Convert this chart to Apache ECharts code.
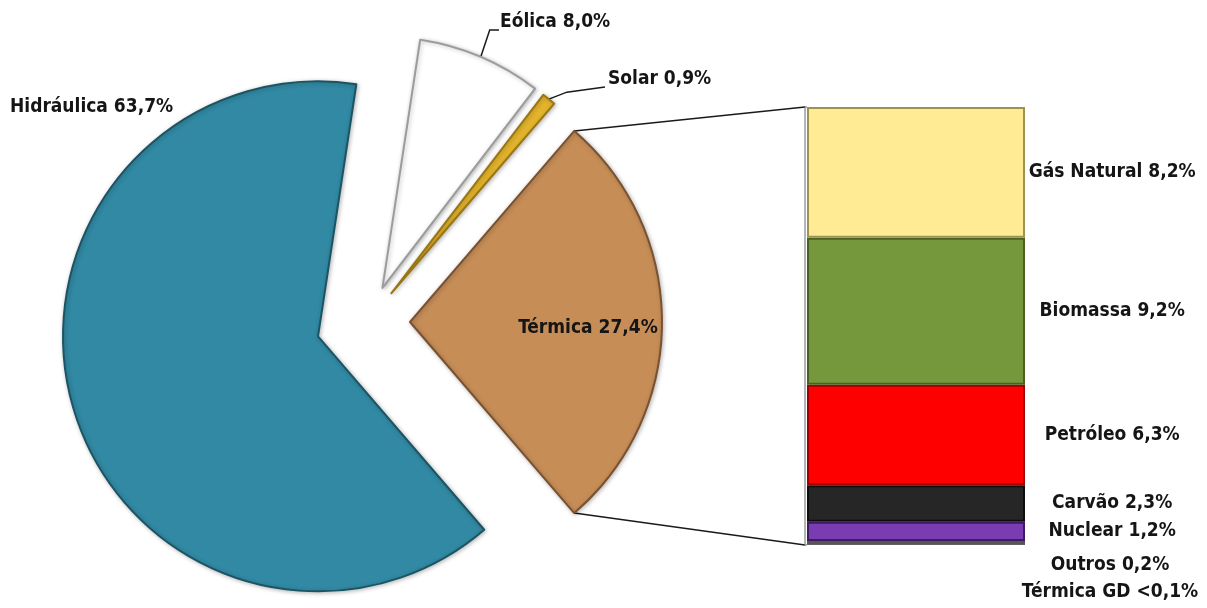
<!DOCTYPE html>
<html>
<head>
<meta charset="utf-8">
<script src="https://cdn.jsdelivr.net/npm/echarts@6/dist/echarts.min.js"></script>
<style>
  html, body { margin: 0; padding: 0; background: #ffffff; }
  #chart { width: 1207px; height: 608px; }
</style>
</head>
<body>
<div id="chart"></div>
<script>
// Main pie: electricity generation by source (%)
const pieNames  = ['Eólica', 'Solar', 'Térmica', 'Hidráulica'];
const pieValues = [8.0, 0.9, 27.4, 63.7];
const pieLabels = ['Eólica 8,0%', 'Solar 0,9%', 'Térmica 27,4%', 'Hidráulica 63,7%'];

// Breakdown of the thermal share, listed top to bottom
const barNames  = ['Gás Natural', 'Biomassa', 'Petróleo', 'Carvão', 'Nuclear', 'Outros', 'Térmica GD'];
const barValues = [8.2, 9.2, 6.3, 2.3, 1.2, 0.2, 0.05];
const barLabels = ['Gás Natural 8,2%', 'Biomassa 9,2%', 'Petróleo 6,3%', 'Carvão 2,3%',
                   'Nuclear 1,2%', 'Outros 0,2%', 'Térmica GD <0,1%'];

// ---- styling / layout ----
const FONT = '"Liberation Sans Narrow", "Arial Narrow", "DejaVu Sans Condensed", sans-serif';
const TEXT_COLOR = '#151515';
const LABEL_SIZE = 19;

const pieStyles = [
  { color: { type: 'linear', x: 0, y: 0, x2: 1, y2: 1,
             colorStops: [{ offset: 0, color: '#ffffff' }, { offset: 0.7, color: '#ffffff' },
                          { offset: 1, color: '#e4e4e8' }] },
    borderColor: '#9c9c9c' },
  { color: '#e3b42c', borderColor: '#9a7612' },
  { color: '#c68d57', borderColor: '#7a5230' },
  { color: '#3189a3', borderColor: '#1c5464' }
];
const pieBase = [368, 322];          // common pie centre before slices are pulled out
const pieExplode = [37, 37, 42, 52]; // pull-out distance per slice
const pieRadius = [251, 250, 252, 255];

const barColors  = ['#ffeb94', '#76983c', '#ff0000', '#262626', '#7a3cb2', '#555555', '#333333'];
const barBorders = ['#9d9250', '#4a6124', '#a20000', '#0d0d0d', '#3e1a63', '#333333', '#222222'];
const grid = { left: 807, top: 107, width: 218, height: 438 };

// ---- derived geometry ----
const pieTotal = pieValues.reduce((a, b) => a + b, 0);
const deg = v => v / pieTotal * 360;
// thermal slice centred on the horizontal axis, pointing right
const startAngle = deg(pieValues[2]) / 2 + deg(pieValues[1]) + deg(pieValues[0]);

const bisector = [];
let acc = startAngle;
pieValues.forEach((v, i) => { bisector.push(acc - deg(v) / 2); acc -= deg(v); });

const centers = bisector.map((a, i) => {
  const r = a * Math.PI / 180;
  return [pieBase[0] + pieExplode[i] * Math.cos(r), pieBase[1] - pieExplode[i] * Math.sin(r)];
});

const labelText = {
  fontFamily: FONT, fontWeight: 'bold', fontSize: LABEL_SIZE, color: TEXT_COLOR
};

// label placement for each slice's own series
const pieLabelLayouts = [
  // Eólica: elbow leader up to the label
  p => {
    const a = p.labelLinePoints ? p.labelLinePoints[0] : [483, 57];
    return { x: 500, y: 22, align: 'left', verticalAlign: 'middle',
             labelLinePoints: [a, [a[0] + 9, 30], [499, 30]] };
  },
  // Solar: short leader up-right
  p => {
    const a = p.labelLinePoints ? p.labelLinePoints[0] : [553, 98];
    return { x: 608, y: 79, align: 'left', verticalAlign: 'middle',
             labelLinePoints: [a, [a[0] + 18, a[1] - 7], [605, 87]] };
  },
  // Térmica: inside, towards the outer arc
  () => ({ dx: 49, dy: 6 }),
  // Hidráulica: top-left, no leader
  () => ({ x: 10, y: 107, align: 'left', verticalAlign: 'middle' })
];

const pieSeries = pieNames.map((name, k) => ({
  type: 'pie',
  name: name,
  center: centers[k],
  radius: [0, pieRadius[k]],
  startAngle: startAngle,
  clockwise: true,
  silent: true,
  animation: false,
  avoidLabelOverlap: false,
  labelLayout: pieLabelLayouts[k],
  data: pieNames.map((n, i) => {
    const own = i === k;
    return {
      name: n,
      value: pieValues[i],
      itemStyle: own
        ? Object.assign({ borderWidth: 2, shadowBlur: 4, shadowColor: 'rgba(0,0,0,0.25)',
                          shadowOffsetX: 1, shadowOffsetY: 1 }, pieStyles[i])
        : { color: 'rgba(0,0,0,0)', borderWidth: 0 },
      label: own
        ? Object.assign({ show: true, formatter: pieLabels[i],
                          position: name === 'Térmica' ? 'inside' : 'outside' }, labelText)
        : { show: false },
      labelLine: own && (name === 'Eólica' || name === 'Solar')
        ? { show: true, lineStyle: { color: '#1a1a1a', width: 1.5 } }
        : { show: false }
    };
  })
}));

// stacked bar: first series sits at the bottom, so stack in reverse order
const barTotal = barValues.reduce((a, b) => a + b, 0);
const barLabelPos = ['140%', '50%'];
const barSeries = barNames.map((n, i) => ({ n, i })).reverse().map(({ n, i }) => ({
  type: 'bar',
  name: n,
  stack: 'termica',
  barWidth: '100%',
  silent: true,
  animation: false,
  data: [barValues[i]],
  itemStyle: { color: barColors[i], borderColor: barBorders[i], borderWidth: i < 5 ? 2 : 0 },
  label: Object.assign({
    show: true,
    formatter: barLabels[i],
    position: i < 5 ? barLabelPos : ['139%', i === 5 ? 24 : 48],
    align: 'center',
    verticalAlign: 'middle'
  }, labelText)
}));

const chart = echarts.init(document.getElementById('chart'), null, { renderer: 'canvas' });

// connector lines from the thermal slice to the bar
const tIdx = 2;
const tc = centers[tIdx];
const tr = pieRadius[tIdx];
const tStart = (bisector[tIdx] + deg(pieValues[tIdx]) / 2) * Math.PI / 180;
const tEnd = (bisector[tIdx] - deg(pieValues[tIdx]) / 2) * Math.PI / 180;
const arcTop = [tc[0] + tr * Math.cos(tStart), tc[1] - tr * Math.sin(tStart)];
const arcBot = [tc[0] + tr * Math.cos(tEnd), tc[1] - tr * Math.sin(tEnd)];
const bx = grid.left - 2, byTop = grid.top, byBot = grid.top + grid.height;

chart.setOption({
  backgroundColor: '#ffffff',
  animation: false,
  grid: Object.assign({ containLabel: false }, grid),
  xAxis: { type: 'category', data: ['Térmica'], show: false, boundaryGap: true },
  yAxis: { type: 'value', min: 0, max: barTotal, show: false },
  series: pieSeries.concat(barSeries),
  graphic: [
    { type: 'polyline', silent: true, shape: { points: [arcTop, [bx, byTop]] },
      style: { stroke: '#1a1a1a', lineWidth: 1.5, fill: null } },
    { type: 'polyline', silent: true, shape: { points: [arcBot, [bx, byBot]] },
      style: { stroke: '#1a1a1a', lineWidth: 1.5, fill: null } },
    { type: 'polyline', silent: true,
      shape: { points: [[grid.left, byTop], [bx, byTop], [bx, byBot], [grid.left, byBot]] },
      style: { stroke: '#6a6a6a', lineWidth: 1, fill: null } }
  ]
});
</script>
</body>
</html>
